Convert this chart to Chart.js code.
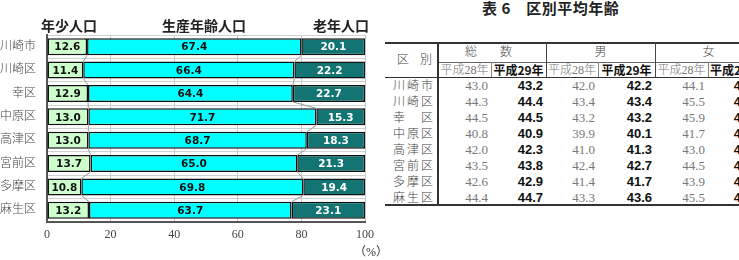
<!DOCTYPE html>
<html lang="ja">
<head>
<meta charset="utf-8">
<script src="https://cdn.jsdelivr.net/npm/chart.js@4.4.1/dist/chart.umd.min.js"></script>
<style>
body{margin:0;width:739px;height:260px;overflow:hidden;background:#fff;position:relative;font-family:"Noto Sans CJK JP",sans-serif;}
#chartBox{position:absolute;left:0;top:0;width:380px;height:260px;}
.t{position:absolute;white-space:nowrap;line-height:16px;height:16px;}
.ln{position:absolute;background:#333;}
.hd{font-weight:bold;font-size:14px;color:#222;}
</style>
</head>
<body>

<div id="chartBox"><canvas id="mainChart" width="380" height="260"></canvas></div>

<div class="t hd" style="left:41px;top:17px;">年少人口</div>
<div class="t hd" style="left:162px;top:17px;">生産年齢人口</div>
<div class="t hd" style="left:313px;top:17px;">老年人口</div>
<div class="t" style="left:354px;top:244px;font-size:12px;color:#333;font-family:'Liberation Serif','Noto Sans CJK JP';">（%）</div>

<div id="tbl"></div>

<script>

/* CHART DATA */

const areas = ["川崎市","川崎区","幸区","中原区","高津区","宮前区","多摩区","麻生区"];

const youngPct = [12.6,11.4,12.9,13.0,13.0,13.7,10.8,13.2];
const workPct = [67.4,66.4,64.4,71.7,68.7,65.0,69.8,63.7];
const oldPct = [20.1,22.2,22.7,15.3,18.3,21.3,19.4,23.1];

/* TABLE DATA */

const tableTitle = "表 6　区別平均年齢";
const tableGroups = ["総数","男","女"];
const tableYears = ["平成28年","平成29年"];

const total28 = [43.0,44.3,44.5,40.8,42.0,43.5,42.6,44.4];
const total29 = [43.2,44.4,44.5,40.9,42.3,43.8,42.9,44.7];
const male28 = [42.0,43.4,43.2,39.9,41.0,42.4,41.4,43.3];
const male29 = [42.2,43.4,43.2,40.1,41.3,42.7,41.7,43.6];
const female28 = [44.1,45.5,45.9,41.7,43.0,44.5,43.9,45.5];
const female29 = [44.3,45.6,46.0,41.9,43.3,44.9,44.2,45.8];

/* SERIES LINES */

const seriesLines = {
id:"seriesLines",
afterDatasetsDraw(chart){
const c = chart.ctx;
c.save();
c.strokeStyle = "#999";
c.lineWidth = 1;
[0,1].forEach(d=>{
const bars = chart.getDatasetMeta(d).data;
for(let i=0;i<bars.length-1;i++){
const a = bars[i], b = bars[i+1];
c.beginPath();
c.moveTo(a.x, a.y + a.height/2);
c.lineTo(b.x, b.y - b.height/2);
c.stroke();
}
});
c.restore();
}
};

/* VALUE LABELS */

const valueLabels = {
id:"valueLabels",
afterDatasetsDraw(chart){
const c = chart.ctx;
c.save();
c.font = "bold 10.5px 'DejaVu Sans'";
c.textAlign = "center";
c.textBaseline = "middle";
chart.data.datasets.forEach((ds,d)=>{
chart.getDatasetMeta(d).data.forEach((el,i)=>{
c.fillStyle = d === 2 ? "#fff" : "#111";
c.fillText(ds.data[i].toFixed(1), (el.x + el.base)/2, el.y + 1);
});
});
c.restore();
}
};

const serif = "'Liberation Serif','Noto Sans CJK JP'";

new Chart(document.getElementById("mainChart"), {

type:"bar",

data:{
labels:areas,
datasets:[
{label:"年少人口", data:youngPct, backgroundColor:"#ccffcc"},
{label:"生産年齢人口", data:workPct, backgroundColor:"#00ffff"},
{label:"老年人口", data:oldPct, backgroundColor:"#137474"}
]
},

options:{
indexAxis:"y",
responsive:false,
animation:false,
layout:{padding:{top:35,right:11,left:0,bottom:0}},
plugins:{
legend:{display:false},
tooltip:{enabled:false}
},
datasets:{
bar:{
categoryPercentage:1,
barPercentage:0.73,
borderColor:"#111",
borderWidth:1.5,
borderSkipped:false
}
},
scales:{
x:{
stacked:true,
min:0,
max:100,
ticks:{stepSize:20, color:"#444", padding:6, font:{family:serif, size:12}},
grid:{color:"#c8c8c8", drawTicks:false},
border:{color:"#555", width:2},
afterFit(s){ s.height = 38; }
},
y:{
stacked:true,
ticks:{color:"#444", padding:11, font:{family:serif, size:12, weight:300}},
grid:{color:"#d0d0d0", drawTicks:false},
border:{color:"#555", width:2},
afterFit(s){ s.width = 47; }
}
}
},

plugins:[seriesLines, valueLabels]

});

/* TABLE */

const tbl = document.getElementById("tbl");

function put(text, x, y, w, align, style){
const d = document.createElement("div");
d.className = "t";
d.textContent = text;
d.style.cssText += `left:${x}px;top:${y-8}px;width:${w}px;text-align:${align};` + style;
tbl.appendChild(d);
}

function spread(text, x, y, w, style){
const d = document.createElement("div");
d.className = "t";
d.style.cssText += `left:${x}px;top:${y-8}px;width:${w}px;display:flex;justify-content:space-between;` + style;
for(const ch of text){
const s = document.createElement("span");
s.textContent = ch;
d.appendChild(s);
}
tbl.appendChild(d);
}

function line(x, y, w, h, color){
const d = document.createElement("div");
d.className = "ln";
d.style.cssText = `left:${x}px;top:${y}px;width:${w}px;height:${h}px;background:${color};`;
tbl.appendChild(d);
}

const lightStyle = `font-size:13px;color:#777;font-family:${serif};font-weight:300;`;
const headLight = `font-size:12px;color:#777;font-family:${serif};font-weight:300;`;
const boldStyle = "font-size:13px;font-weight:bold;color:#111;font-family:'Liberation Sans','Noto Sans CJK JP';";
const labelStyle = `font-size:12px;color:#444;font-family:${serif};font-weight:300;`;

/* title */
put(tableTitle, 482, 8, 160, "left", "font-size:15px;font-weight:bold;color:#222;letter-spacing:0.5px;");
put("（歳）", 733, 33, 40, "left", "font-size:12px;color:#444;");

/* column edges */
const colX = [385,438,491,546,598,655,708,762];

/* header */
spread("区別", 397, 60, 35, labelStyle);
spread(tableGroups[0], 465, 52, 47, labelStyle);
put(tableGroups[1], 546, 52, 109, "center", labelStyle);
put(tableGroups[2], 655, 52, 107, "center", labelStyle);

for(let g=0; g<3; g++){
put(tableYears[0], colX[1+g*2], 70, colX[2+g*2]-colX[1+g*2], "center", headLight);
put(tableYears[1], colX[2+g*2], 70, colX[3+g*2]-colX[2+g*2], "center", "font-size:12px;font-weight:bold;color:#111;");
}

/* rules */
line(385, 42, 377, 2, "#333");
line(438, 62, 324, 1, "#666");
line(385, 77, 377, 1, "#333");
line(385, 204, 377, 2, "#333");
line(437, 42, 2, 163, "#333");
line(546, 42, 1, 35, "#444");
line(655, 42, 1, 35, "#444");
line(491, 62, 1, 15, "#888");
line(598, 62, 1, 15, "#888");
line(708, 62, 1, 15, "#888");

/* rows */
const cols = [total28,total29,male28,male29,female28,female29];

areas.forEach((a,i)=>{
const y = 85.5 + i*16;
spread(a, 393, y, 40, labelStyle);
cols.forEach((arr,c)=>{
const x0 = colX[1+c], w = colX[2+c]-colX[1+c] - 3;
put(arr[i].toFixed(1), x0, y, w, "right", c%2 ? boldStyle : lightStyle);
});
});

</script>
</body>
</html>
